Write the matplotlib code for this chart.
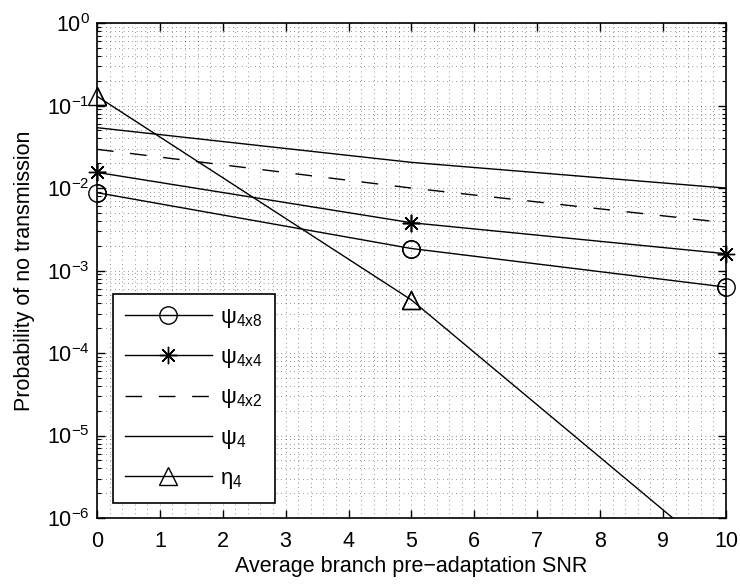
import numpy as np
import matplotlib
matplotlib.use("Agg")
import matplotlib.pyplot as plt
from matplotlib.ticker import MultipleLocator, LogLocator, NullFormatter

plt.rcParams['font.family'] = ['Liberation Sans', 'DejaVu Sans']
plt.rcParams['mathtext.default'] = 'regular'
plt.rcParams['font.size'] = 15

# average branch pre-adaptation SNR
snr = [0, 5, 10]
psi_4x8 = [8.8e-3, 1.85e-3, 6.3e-4]
psi_4x4 = [1.55e-2, 3.8e-3, 1.6e-3]
psi_4x2 = [2.95e-2, 1.0e-2, 3.8e-3]
psi_4 = [5.4e-2, 2.05e-2, 1.0e-2]
eta_4 = [1.3e-1, 4.4e-4, 2.9e-7]

labels = ['ψ$_{4x8}$', 'ψ$_{4x4}$', 'ψ$_{4x2}$', 'ψ$_{4}$', 'η$_{4}$']
YMIN, YMAX = 1e-6, 1e0

fig = plt.figure(figsize=(7.4, 5.85), dpi=100)
ax = fig.add_axes([0.131, 0.1145, 0.85, 0.846])

series = [psi_4x8, psi_4x4, psi_4x2, psi_4, eta_4]
styles = [('-', 'o'), ('-', (8, 2, 0)), ((0, (12, 12)), None), ('-', None), ('-', '^')]

handles = []
for ys, (ls, mk), lab in zip(series, styles, labels):
    h, = ax.plot(snr, ys, color='black', lw=1.0, ls=ls, marker=mk,
                 ms=12.5, mfc='none', mec='black', mew=1.0, label=lab)
    handles.append(h)
    if mk is not None:
        # markers on the box edge are drawn in full, like the original
        ys_in = np.ma.masked_less(np.array(ys), YMIN)
        ax.plot(snr, ys_in, ls='none', marker=mk, ms=12.5, mfc='none',
                mec='black', mew=1.0, clip_on=False)

ax.set_yscale('log')
ax.set_xlim(0, 10)
ax.set_ylim(YMIN, YMAX)
ax.xaxis.set_major_locator(MultipleLocator(1))
ax.xaxis.set_minor_locator(MultipleLocator(0.2))
ax.yaxis.set_major_locator(LogLocator(base=10, numticks=10))
ax.yaxis.set_minor_locator(LogLocator(base=10, subs=np.arange(2, 10), numticks=20))
ax.yaxis.set_minor_formatter(NullFormatter())

ax.tick_params(which='both', direction='in', top=True, right=True, labelsize=15.5)
ax.tick_params(which='major', length=6, width=1)
ax.tick_params(axis='y', which='minor', length=3, width=0.8)
ax.tick_params(axis='x', which='minor', length=0)
ax.tick_params(axis='x', pad=9)
ax.tick_params(axis='y', pad=5)

ax.grid(True, which='both', color='black', ls=(0, (1, 6)), lw=0.45)
for sp in ax.spines.values():
    sp.set_linewidth(1.2)

ax.set_xlabel('Average branch pre−adaptation SNR', fontsize=15.5, labelpad=3)
ax.set_ylabel('Probability of no transmission', fontsize=15.5, labelpad=9)

leg = ax.legend(handles=handles, loc='lower left', bbox_to_anchor=(0.025, 0.03),
                borderaxespad=0, fancybox=False, framealpha=1, edgecolor='black',
                fontsize=16, handlelength=3.9, handletextpad=0.4, labelspacing=0.78,
                borderpad=0.55)
leg.get_frame().set_linewidth(1.2)

fig.savefig('out.png', dpi=100)
